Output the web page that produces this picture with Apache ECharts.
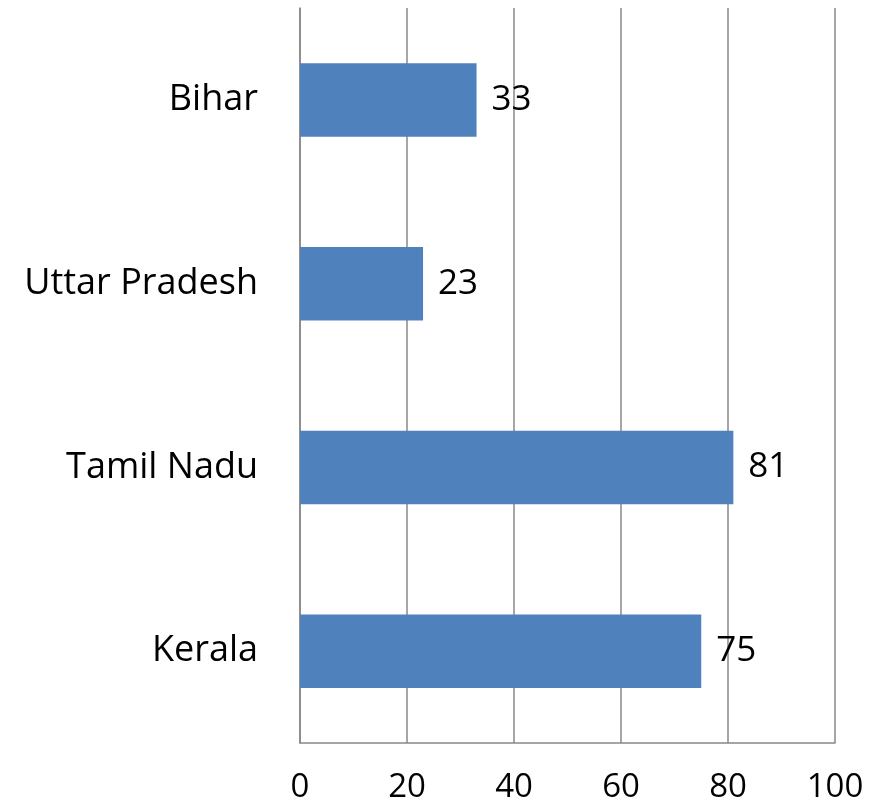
<!DOCTYPE html>
<html>
  <head>
    <meta charset="utf-8" />
    <title>States</title>
    <script src="https://cdn.jsdelivr.net/npm/echarts@6/dist/echarts.min.js"></script>
    <style>
      html, body {margin:0;padding:0;background:#fff;}
      #chart {width:883px;height:808px;}
    </style>
  </head>
  <body>
    <div id="chart"></div>
    <script type="text/javascript">
      // bottom to top, like the picture
      var states = ['Kerala', 'Tamil Nadu', 'Uttar Pradesh', 'Bihar'];
      var values = [75, 81, 23, 33];
      var xTicks = [0, 20, 40, 60, 80, 100];

      var chart = echarts.init(document.getElementById('chart'));
      var txt = {fontFamily: 'Open Sans', fontSize: 35, color: '#000'};

      option = {
        animation: false,
        grid: {left: 300, right: 48, top: 8, bottom: 65},
        xAxis: {
          type: 'value',
          min: xTicks[0],
          max: xTicks[xTicks.length - 1],
          interval: 20,
          axisLine: {show: true, lineStyle: {color: '#888', width: 1.5}},
          axisTick: {show: false},
          axisLabel: Object.assign({margin: 28}, txt, {fontSize: 33}),
          splitLine: {show: true, lineStyle: {color: '#888', width: 1.5}}
        },
        yAxis: {
          type: 'category',
          data: states,
          axisLine: {show: true, lineStyle: {color: '#888', width: 1.5}},
          axisTick: {show: false},
          axisLabel: Object.assign({margin: 42}, txt, {fontSize: 36})
        },
        series: [
          {
            type: 'bar',
            data: values,
            barCategoryGap: '60%',
            itemStyle: {color: '#4F81BD'},
            label: Object.assign({show: true, position: 'right', distance: 15}, txt)
          }
        ]
      };
      chart.setOption(option);
    </script>
  </body>
</html>
